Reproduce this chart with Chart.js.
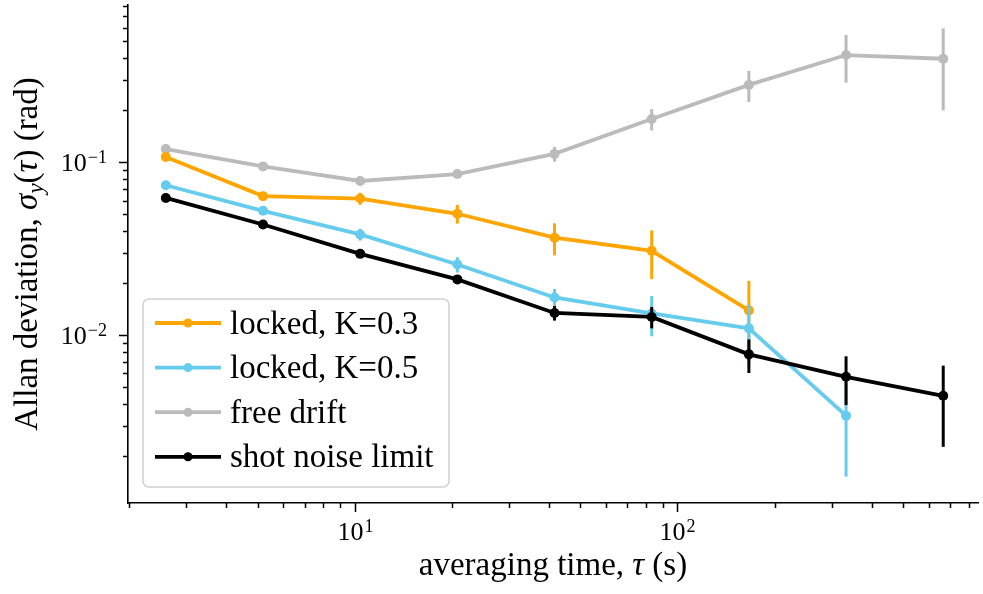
<!DOCTYPE html>
<html>
<head>
<meta charset="utf-8">
<script src="https://cdn.jsdelivr.net/npm/chart.js@4.4.0/dist/chart.umd.min.js"></script>
<style>
  html, body { margin: 0; padding: 0; background: #fff; }
  #chart { display: block; }
</style>
</head>
<body>
<canvas id="chart" width="983" height="594"></canvas>
<script>
// averaging times (s)
const tau = [2.6, 5.2, 10.4, 20.8, 41.6, 83.2, 166.4, 332.8, 665.6];

// Allan deviation (rad) and 1-sigma errors, per series
const lockedK03 = [0.107, 0.0636, 0.0616, 0.0503, 0.0366, 0.0307, 0.0139];
const lockedK03Err = [0.002, 0.0015, 0.005, 0.0062, 0.0077, 0.0096, 0.0067];

const lockedK05 = [0.0735, 0.0523, 0.0382, 0.0256, 0.0165, 0.01334, 0.01094, 0.00342];
const lockedK05Err = [0.0015, 0.0015, 0.003, 0.0026, 0.002, 0.0035, 0.004, 0.0019];

const freeDrift = [0.119, 0.0945, 0.0778, 0.0853, 0.1116, 0.1774, 0.2797, 0.416, 0.396];
const freeDriftErr = [0.002, 0.002, 0.002, 0.003, 0.011, 0.025, 0.057, 0.128, 0.197];

const shotNoise = [0.0621, 0.0436, 0.0295, 0.0210, 0.01343, 0.01274, 0.00774, 0.00574, 0.00446];
const shotNoiseErr = [0.0008, 0.0008, 0.0008, 0.001, 0.0013, 0.0018, 0.0017, 0.0018, 0.0022];

const seriesLabels = ["locked, K=0.3", "locked, K=0.5", "free drift", "shot noise limit"];
const seriesColors = ["#FFA500", "#66CCEE", "#BBBBBB", "#000000"];

// axis ticks; decades get a "10" + exponent label
const xTicks = [2, 3, 4, 5, 6, 7, 8, 9, 10, 20, 30, 40, 50, 60, 70, 80, 90, 100, 200, 300, 400, 500, 600, 700, 800];
const xMajor = [10, 100];
const xMajorExp = ["1", "2"];
const yTicks = [0.002, 0.003, 0.004, 0.005, 0.006, 0.007, 0.008, 0.009, 0.01,
                0.02, 0.03, 0.04, 0.05, 0.06, 0.07, 0.08, 0.09, 0.1,
                0.2, 0.3, 0.4, 0.5, 0.6, 0.7, 0.8];
const yMajor = [0.01, 0.1];
const yMajorExp = ["\u22122", "\u22121"];

const X_MIN = 1.985, X_MAX = 853;
const Y_MIN = 0.00107, Y_MAX = 0.81;

const SERIF = '"Liberation Serif", "Times New Roman", serif';

function pts(vals) {
  return vals.map((v, i) => ({ x: tau[i], y: v }));
}

function isDecade(v) {
  const l = Math.log10(v);
  return Math.abs(l - Math.round(l)) < 1e-9;
}

const allVals = [lockedK03, lockedK05, freeDrift, shotNoise];
const allErrs = [lockedK03Err, lockedK05Err, freeDriftErr, shotNoiseErr];
// draw order: shot noise on top, then K=0.5, K=0.3, free drift underneath
const drawOrder = [2, 1, 3, 0];

const datasets = allVals.map((vals, k) => ({
  label: seriesLabels[k],
  data: pts(vals),
  err: allErrs[k],
  borderColor: seriesColors[k],
  backgroundColor: seriesColors[k],
  pointBackgroundColor: seriesColors[k],
  pointBorderWidth: 0,
  pointRadius: 5,
  borderWidth: 3.8,
  tension: 0,
  order: drawOrder[k]
}));

// vertical error bars, drawn just under each dataset's line
const errorBars = {
  id: "errorBars",
  beforeDatasetDraw(chart, args) {
    const ds = chart.data.datasets[args.index];
    if (!ds.err) return;
    const xs = chart.scales.x, ys = chart.scales.y, ctx = chart.ctx;
    ctx.save();
    ctx.strokeStyle = ds.borderColor;
    ctx.lineWidth = 3;
    ds.data.forEach((p, i) => {
      const e = ds.err[i];
      const px = xs.getPixelForValue(p.x);
      ctx.beginPath();
      ctx.moveTo(px, ys.getPixelForValue(p.y + e));
      ctx.lineTo(px, ys.getPixelForValue(Math.max(p.y - e, 1e-6)));
      ctx.stroke();
    });
    ctx.restore();
  }
};

function powLabel(ctx, exp, x, baseline, align) {
  ctx.font = "26px " + SERIF;
  const wb = ctx.measureText("10").width;
  ctx.font = "18px " + SERIF;
  const we = ctx.measureText(exp).width + 1;
  const left = align === "center" ? x - (wb + we) / 2 : x - (wb + we);
  ctx.font = "26px " + SERIF;
  ctx.fillText("10", left, baseline);
  ctx.font = "18px " + SERIF;
  ctx.fillText(exp, left + wb + 1, baseline - 8);
}

// outward tick marks (long on decades) and decade labels
const tickMarks = {
  id: "tickMarks",
  afterDraw(chart) {
    const ctx = chart.ctx, area = chart.chartArea;
    const xs = chart.scales.x, ys = chart.scales.y;
    ctx.save();
    ctx.strokeStyle = "#000";
    ctx.fillStyle = "#000";
    ctx.lineWidth = 1.5;
    ctx.textBaseline = "alphabetic";
    ctx.textAlign = "left";
    xs.ticks.forEach(t => {
      const px = Math.round(xs.getPixelForValue(t.value)) + 0.5;
      const len = t.major ? 9 : 5;
      ctx.beginPath();
      ctx.moveTo(px, area.bottom);
      ctx.lineTo(px, area.bottom + len);
      ctx.stroke();
      const i = xMajor.indexOf(t.value);
      if (i >= 0) powLabel(ctx, xMajorExp[i], px, area.bottom + 37, "center");
    });
    ys.ticks.forEach(t => {
      const py = Math.round(ys.getPixelForValue(t.value)) + 0.5;
      if (py < area.top) return;
      const len = t.major ? 9 : 5;
      ctx.beginPath();
      ctx.moveTo(area.left, py);
      ctx.lineTo(area.left - len, py);
      ctx.stroke();
      const i = yMajor.indexOf(t.value);
      if (i >= 0) powLabel(ctx, yMajorExp[i], area.left - 21, py + 8, "right");
    });
    ctx.restore();
  }
};

function drawRich(ctx, segs, cx, baseline) {
  let total = 0;
  segs.forEach(s => { ctx.font = s.f; s.w = ctx.measureText(s.t).width; total += s.w; });
  let x = cx - total / 2;
  segs.forEach(s => {
    ctx.font = s.f;
    ctx.fillText(s.t, x, baseline + (s.dy || 0));
    x += s.w;
  });
}

// axis titles with italic symbols
const axisTitles = {
  id: "axisTitles",
  afterDraw(chart) {
    const ctx = chart.ctx, area = chart.chartArea;
    const n = "33px " + SERIF, it = "italic 33px " + SERIF, sub = "italic 23px " + SERIF;
    ctx.save();
    ctx.fillStyle = "#000";
    ctx.textBaseline = "alphabetic";
    ctx.textAlign = "left";
    drawRich(ctx, [
      { t: "averaging time, ", f: n },
      { t: "\u03C4", f: it },
      { t: " (s)", f: n }
    ], (area.left + area.right) / 2, 575);

    ctx.translate(37, (area.top + area.bottom) / 2);
    ctx.rotate(-Math.PI / 2);
    drawRich(ctx, [
      { t: "Allan deviation, ", f: n },
      { t: "\u03C3", f: it },
      { t: "y", f: sub, dy: 6 },
      { t: "(", f: n },
      { t: "\u03C4", f: it },
      { t: ")", f: n },
      { t: " (rad)", f: n }
    ], 0, 0);
    ctx.restore();
  }
};

// framed legend in the lower left of the axes
const boxLegend = {
  id: "boxLegend",
  afterDraw(chart) {
    const ctx = chart.ctx;
    const bx = 143, by = 299, bw = 306, bh = 188, r = 6;
    ctx.save();
    ctx.beginPath();
    ctx.moveTo(bx + r, by);
    ctx.arcTo(bx + bw, by, bx + bw, by + bh, r);
    ctx.arcTo(bx + bw, by + bh, bx, by + bh, r);
    ctx.arcTo(bx, by + bh, bx, by, r);
    ctx.arcTo(bx, by, bx + bw, by, r);
    ctx.closePath();
    ctx.fillStyle = "rgba(255,255,255,0.8)";
    ctx.fill();
    ctx.strokeStyle = "#d0d0d0";
    ctx.lineWidth = 1.5;
    ctx.stroke();

    ctx.font = "33px " + SERIF;
    ctx.textBaseline = "middle";
    ctx.textAlign = "left";
    seriesLabels.forEach((lab, i) => {
      const y = 323 + i * 44.6;
      ctx.strokeStyle = seriesColors[i];
      ctx.lineWidth = 3.8;
      ctx.beginPath();
      ctx.moveTo(155, y);
      ctx.lineTo(221, y);
      ctx.stroke();
      ctx.fillStyle = seriesColors[i];
      ctx.beginPath();
      ctx.arc(188, y, 4.5, 0, Math.PI * 2);
      ctx.fill();
      ctx.fillStyle = "#000";
      ctx.fillText(lab, 230, y + 2);
    });
    ctx.restore();
  }
};

const noPad = axis => {
  axis.paddingTop = 0; axis.paddingBottom = 0;
  axis.paddingLeft = 0; axis.paddingRight = 0;
};

const chart = new Chart(document.getElementById("chart"), {
  type: "line",
  data: { datasets: datasets },
  options: {
    responsive: false,
    animation: false,
    devicePixelRatio: 1,
    events: [],
    layout: { padding: { top: 2, right: 0, left: 0, bottom: 0 } },
    plugins: { legend: { display: false }, tooltip: { enabled: false } },
    scales: {
      x: {
        type: "logarithmic",
        min: X_MIN,
        max: X_MAX,
        afterBuildTicks: axis => { axis.ticks = xTicks.map(v => ({ value: v, major: isDecade(v) })); },
        afterFit: axis => { axis.height = 91; noPad(axis); },
        grid: { display: false, drawTicks: false },
        border: { display: true, color: "#000", width: 1.6 },
        ticks: { display: false }
      },
      y: {
        type: "logarithmic",
        min: Y_MIN,
        max: Y_MAX,
        afterBuildTicks: axis => { axis.ticks = yTicks.map(v => ({ value: v, major: isDecade(v) })); },
        afterFit: axis => { axis.width = 128; noPad(axis); },
        grid: { display: false, drawTicks: false },
        border: { display: true, color: "#000", width: 1.6 },
        ticks: { display: false }
      }
    }
  },
  plugins: [errorBars, tickMarks, axisTitles, boxLegend]
});
</script>
</body>
</html>
